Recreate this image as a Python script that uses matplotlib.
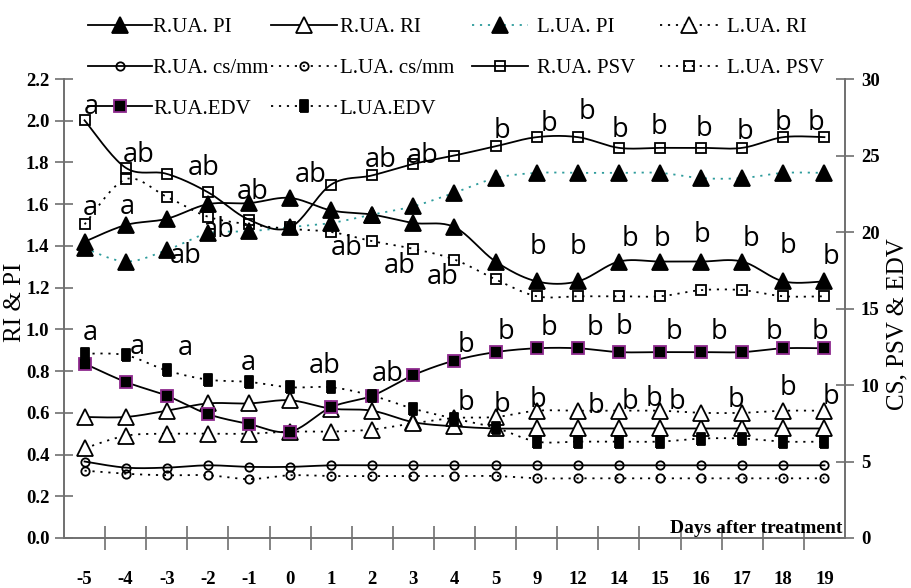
import numpy as np
import matplotlib
matplotlib.use("Agg")
import matplotlib.pyplot as plt
from matplotlib.lines import Line2D
from matplotlib.ticker import FixedLocator, FixedFormatter, FormatStrFormatter

# ---------------- data ----------------
days = ['-5', '-4', '-3', '-2', '-1', '0', '1', '2', '3', '4', '5',
        '9', '12', '14', '15', '16', '17', '18', '19']

# left axis (RI & PI)
rua_pi = [1.42, 1.50, 1.53, 1.60, 1.605, 1.63, 1.57, 1.55, 1.51, 1.49, 1.325,
          1.23, 1.23, 1.325, 1.325, 1.325, 1.325, 1.23, 1.23]
lua_pi = [1.39, 1.325, 1.38, 1.46, 1.47, 1.49, 1.51, 1.55, 1.59, 1.655, 1.725,
          1.75, 1.75, 1.75, 1.75, 1.725, 1.725, 1.75, 1.75]
rua_ri = [0.58, 0.58, 0.61, 0.645, 0.645, 0.66, 0.62, 0.61, 0.555, 0.535, 0.525,
          0.525, 0.525, 0.525, 0.525, 0.525, 0.525, 0.525, 0.525]
lua_ri = [0.43, 0.49, 0.50, 0.50, 0.50, 0.51, 0.51, 0.52, 0.55, 0.575, 0.58,
          0.61, 0.61, 0.61, 0.61, 0.60, 0.60, 0.61, 0.61]

# right axis (CS, PSV & EDV)
rua_cs = [5.0, 4.6, 4.6, 4.75, 4.65, 4.65, 4.75, 4.75, 4.75, 4.75, 4.75,
          4.75, 4.75, 4.75, 4.75, 4.75, 4.75, 4.75, 4.75]
lua_cs = [4.4, 4.2, 4.1, 4.1, 3.85, 4.1, 4.05, 4.05, 4.05, 4.05, 4.05,
          3.9, 3.9, 3.9, 3.9, 3.9, 3.9, 3.9, 3.9]
rua_psv = [27.3, 24.2, 23.8, 22.6, 20.8, 20.3, 23.1, 23.7, 24.45, 25.0, 25.6,
           26.2, 26.2, 25.5, 25.5, 25.5, 25.5, 26.2, 26.2]
lua_psv = [20.5, 23.45, 22.3, 21.0, 20.5, 20.2, 20.0, 19.4, 18.9, 18.2, 16.9,
           15.8, 15.8, 15.8, 15.8, 16.2, 16.2, 15.8, 15.8]
rua_edv = [11.4, 10.2, 9.3, 8.1, 7.45, 6.95, 8.55, 9.3, 10.65, 11.6, 12.15,
           12.4, 12.4, 12.15, 12.15, 12.15, 12.15, 12.4, 12.4]
lua_edv = [12.05, 11.95, 10.95, 10.35, 10.2, 9.85, 9.85, 9.3, 8.45, 7.8, 7.2,
           6.3, 6.3, 6.3, 6.3, 6.5, 6.5, 6.3, 6.3]

# significance letters (category position, right-axis value)
ann_text = ['a', 'ab', 'ab', 'ab', 'ab', 'ab', 'ab', 'b', 'b', 'b', 'b', 'b', 'b', 'b', 'b', 'b',
            'a', 'a', 'ab', 'ab', 'ab', 'ab', 'ab', 'b', 'b', 'b', 'b', 'b', 'b', 'b', 'b',
            'a', 'a', 'a', 'a', 'ab', 'ab', 'b', 'b', 'b', 'b', 'b', 'b', 'b', 'b', 'b',
            'b', 'b', 'b', 'b', 'b', 'b', 'b', 'b', 'b', 'b']
ann_x = [0.17, 1.32, 2.90, 4.10, 5.51, 7.20, 8.22, 10.15, 11.29, 12.22, 13.02, 13.98, 15.07, 16.07, 17.00, 17.80,
         0.15, 1.05, 2.46, 3.27, 6.37, 7.66, 8.71, 11.02, 12.00, 13.27, 14.05, 15.02, 16.20, 17.10, 18.15,
         0.15, 1.29, 2.46, 3.98, 5.83, 7.37, 9.29, 10.24, 11.29, 12.41, 13.12, 14.34, 15.44, 16.78, 17.88,
         9.29, 10.15, 11.02, 12.44, 13.27, 13.85, 14.41, 15.85, 17.12, 18.17]
ann_y = [28.17, 25.03, 24.18, 22.61, 23.73, 24.71, 24.97, 26.60, 27.06, 27.84, 26.67, 26.86, 26.73, 26.54, 27.12, 27.12,
         21.57, 21.63, 18.43, 20.13, 18.95, 17.78, 17.06, 19.02, 19.02, 19.54, 19.54, 19.80, 19.54, 19.08, 18.37,
         13.40, 12.48, 12.42, 11.44, 11.24, 10.72, 12.61, 13.46, 13.73, 13.73, 13.79, 13.46, 13.46, 13.46, 13.46,
         8.82, 8.69, 9.02, 8.63, 8.89, 9.08, 8.89, 9.02, 9.80, 9.22]

left_ticks = [0.0, 0.2, 0.4, 0.6, 0.8, 1.0, 1.2, 1.4, 1.6, 1.8, 2.0, 2.2]
right_ticks = [0, 5, 10, 15, 20, 25, 30]

# ---------------- helpers ----------------
def smooth(xs, ys, n=20):
    P = np.column_stack([xs, ys]).astype(float)
    Pe = np.vstack([P[0], P, P[-1]])
    out = [P[0]]
    t = np.linspace(0, 1, n + 1)[1:, None]
    for i in range(len(P) - 1):
        p0, p1, p2, p3 = Pe[i], Pe[i + 1], Pe[i + 2], Pe[i + 3]
        c1 = p1 + (p2 - p0) / 6.0
        c2 = p2 - (p3 - p1) / 6.0
        seg = (1 - t) ** 3 * p1 + 3 * (1 - t) ** 2 * t * c1 + 3 * (1 - t) * t ** 2 * c2 + t ** 3 * p2
        out.extend(seg)
    out = np.array(out)
    return out[:, 0], out[:, 1]

SERIF = 'Liberation Serif'
TEAL = '#2E9C9C'
PURPLE = '#8E2A8E'
DOT = (0, (1.2, 3.2))
tall_rect = [(-0.7, -1), (0.7, -1), (0.7, 1), (-0.7, 1), (-0.7, -1)]

fig = plt.figure(figsize=(9.12, 5.88), dpi=100)
ax = fig.add_axes([64 / 912, 50 / 588, 781 / 912, 459 / 588])
ax2 = ax.twinx()

x = np.arange(len(days))

styles = [
    # (axis, data, label, linestyle, linecolor, marker, ms, mfc, mec)
    (ax, rua_pi, 'R.UA. PI', '-', 'black', '^', 11, 'black', 'black'),
    (ax, rua_ri, 'R.UA. RI', '-', 'black', '^', 11, 'white', 'black'),
    (ax, lua_pi, 'L.UA. PI', DOT, TEAL, '^', 11, 'black', 'black'),
    (ax, lua_ri, 'L.UA. RI', DOT, 'black', '^', 11, 'white', 'black'),
    (ax2, rua_cs, 'R.UA. cs/mm', '-', 'black', 'o', 6, 'none', 'black'),
    (ax2, lua_cs, 'L.UA. cs/mm', DOT, 'black', 'o', 6, 'none', 'black'),
    (ax2, rua_psv, 'R.UA. PSV', '-', 'black', 's', 7, 'none', 'black'),
    (ax2, lua_psv, 'L.UA. PSV', DOT, 'black', 's', 7, 'none', 'black'),
    (ax2, rua_edv, 'R.UA.EDV', '-', 'black', 's', 8, 'black', PURPLE),
    (ax2, lua_edv, 'L.UA.EDV', DOT, 'black', tall_rect, 9, 'black', 'black'),
]

handles = {}
for a, data, label, ls, lc, mk, ms, mfc, mec in styles:
    sx, sy = smooth(x, data)
    a.plot(sx, sy, linestyle=ls, color=lc, lw=1.3, zorder=2)
    a.plot(x, data, linestyle='none', marker=mk, ms=ms, mfc=mfc, mec=mec, mew=1.3, zorder=3)
    handles[label] = Line2D([], [], linestyle=ls, color=lc, lw=1.3, marker=mk, ms=ms,
                            mfc=mfc, mec=mec, mew=1.3)

# ---------------- axes ----------------
ax.set_xlim(-0.5, len(days) - 0.5)
ax.set_ylim(0, 2.2)
ax2.set_ylim(0, 30)

ax.xaxis.set_major_locator(FixedLocator(x))
ax.xaxis.set_major_formatter(FixedFormatter(days))
ax.xaxis.set_minor_locator(FixedLocator(np.arange(0.5, len(days) - 1, 1.0)))
ax.tick_params(axis='x', which='major', length=0, pad=24)
ax.tick_params(axis='x', which='minor', direction='inout', length=17, width=1.2, color='#707070')

ax.yaxis.set_major_locator(FixedLocator(left_ticks))
ax.yaxis.set_major_formatter(FormatStrFormatter('%.1f'))
ax.tick_params(axis='y', direction='inout', length=13, width=1.2, color='#707070', pad=4)
ax2.yaxis.set_major_locator(FixedLocator(right_ticks))
ax2.tick_params(axis='y', direction='inout', length=13, width=1.2, color='#707070', pad=5)

for a in (ax, ax2):
    for lab in a.get_xticklabels() + a.get_yticklabels():
        lab.set_fontfamily(SERIF)
        lab.set_fontweight('bold')
        lab.set_fontsize(13.5)
    for s in ('left', 'right', 'bottom'):
        a.spines[s].set_color('#707070')
        a.spines[s].set_linewidth(1.2)
    a.spines['top'].set_visible(False)
    a.patch.set_visible(False)

ax.set_ylabel('RI & PI', family=SERIF, fontsize=18, va='center', ha='center')
ax.yaxis.set_label_coords(-0.063, 0.514)
ax2.set_ylabel('CS, PSV & EDV', family=SERIF, fontsize=18, va='center', ha='center', rotation=90)
ax2.yaxis.set_label_coords(1.067, 0.466)

fig.text(842 / 912, (588 - 533) / 588, 'Days after treatment', family=SERIF,
         fontweight='bold', fontsize=14, ha='right', va='baseline')

for t, xx, yy in zip(ann_text, ann_x, ann_y):
    ax2.text(xx, yy, t, family='Open Sans', fontsize=19.5, ha='center', va='center', zorder=5)

# ---------------- legend (4 columns) ----------------
cols = [
    (['R.UA. PI', 'R.UA. cs/mm', 'R.UA.EDV'], 88, 3.07, 0.05),
    (['R.UA. RI', 'L.UA. cs/mm', 'L.UA.EDV'], 271, 3.15, 0.15),
    (['L.UA. PI', 'R.UA. PSV'], 472, 2.7, 0.43),
    (['L.UA. RI', 'L.UA. PSV'], 660, 2.78, 0.43),
]
for labels, xpix, hl, htp in cols:
    fig.legend([handles[l] for l in labels], labels, loc='upper left',
               bbox_to_anchor=(xpix / 912, 1 - 17.5 / 588), frameon=False,
               prop={'family': SERIF, 'size': 15}, numpoints=1,
               handlelength=hl, handletextpad=htp, borderpad=0, borderaxespad=0,
               labelspacing=1.02)

fig.savefig('out.png', dpi=100)
